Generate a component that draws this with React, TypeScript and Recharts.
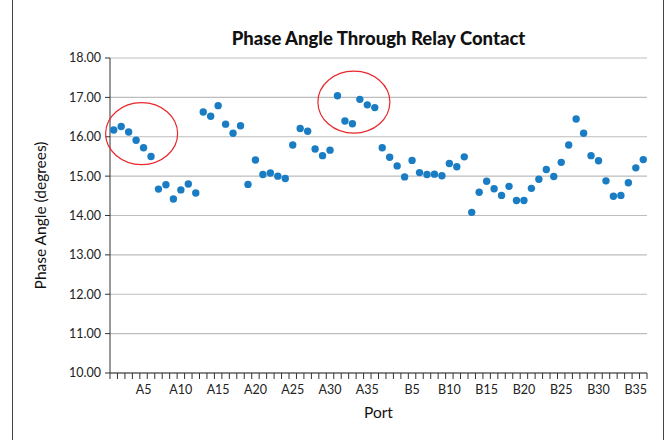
import React from 'react';
import { ScatterChart, Scatter, XAxis, YAxis, CartesianGrid, ReferenceDot } from 'recharts';

const portsA = Array.from({ length: 36 }, (_, i) => `A${i + 1}`);
const portsB = Array.from({ length: 36 }, (_, i) => `B${i + 1}`);
const ports = [...portsA, ...portsB];

const valuesA = [
  16.17, 16.26, 16.12, 15.91, 15.72, 15.50, 14.67, 14.78, 14.42, 14.65, 14.80, 14.57,
  16.63, 16.52, 16.79, 16.32, 16.09, 16.28, 14.79, 15.41, 15.04, 15.08, 15.00, 14.94,
  15.79, 16.21, 16.14, 15.69, 15.52, 15.66, 17.04, 16.40, 16.33, 16.95, 16.81, 16.74,
];
const valuesB = [
  15.72, 15.48, 15.26, 14.98, 15.40, 15.09, 15.04, 15.05, 15.01, 15.32, 15.24, 15.49,
  14.08, 14.59, 14.87, 14.68, 14.51, 14.74, 14.38, 14.38, 14.69, 14.92, 15.17, 14.99,
  15.35, 15.79, 16.45, 16.09, 15.52, 15.39, 14.88, 14.49, 14.51, 14.83, 15.21, 15.42,
];
const values = [...valuesA, ...valuesB];

const yTicks = [10, 11, 12, 13, 14, 15, 16, 17, 18];
const labeledPorts = ports.filter((p) => Number(p.slice(1)) % 5 === 0);

// highlighted clusters (center port position, center value)
const highlights = [
  { x: 4.24, y: 16.08 },
  { x: 32.7, y: 16.88 },
];

const data = ports.map((p, i) => ({ x: i + 0.5, y: values[i], port: p }));
const boundaryTicks = Array.from({ length: ports.length + 1 }, (_, i) => i);
const labelTicks = labeledPorts.map((p) => ports.indexOf(p) + 0.5);

const FONT = 'Lato, "Open Sans", sans-serif';

const Ellipse = (props: any) => (
  <ellipse cx={props.cx} cy={props.cy} rx={36} ry={31} fill="none" stroke="#e8262b" strokeWidth={1.2} />
);

export default function App() {
  return (
    <div style={{ position: 'absolute', left: 0, top: 0, width: 667, height: 440, background: '#fff', fontFamily: FONT, overflow: 'hidden' }}>
      <div
        style={{
          position: 'absolute',
          left: 110,
          width: 537,
          top: 27,
          textAlign: 'center',
          fontWeight: 900,
          fontSize: 18.5,
          color: '#111',
          fontFamily: FONT,
        }}
      >
        Phase Angle Through Relay Contact
      </div>
      <ScatterChart width={667} height={440} margin={{ top: 58, right: 20, left: 0, bottom: 12 }} style={{ fontFamily: FONT }}>
        <CartesianGrid xAxisId="a_main" horizontal vertical={false} stroke="#bdbdbd" strokeWidth={1.2} />
        <XAxis
          xAxisId="a_main"
          type="number"
          dataKey="x"
          domain={[0, ports.length]}
          ticks={boundaryTicks}
          interval={0}
          tickFormatter={() => ''}
          tickSize={6}
          tickMargin={0}
          height={7}
          axisLine={{ stroke: '#333' }}
          tickLine={{ stroke: '#333' }}
        />
        <XAxis
          xAxisId="b_labels"
          type="number"
          dataKey="x"
          domain={[0, ports.length]}
          ticks={labelTicks}
          interval={0}
          tickFormatter={(v: number) => ports[Math.floor(v)]}
          tickSize={0}
          tickMargin={5}
          height={48}
          axisLine={false}
          tickLine={false}
          tick={{ fill: '#222', fontSize: 12.5, fontFamily: FONT }}
          label={{ value: 'Port', position: 'insideBottom', offset: 10, style: { fill: '#111', fontSize: 15.5, fontFamily: FONT } }}
        />
        <YAxis
          type="number"
          dataKey="y"
          domain={[10, 18]}
          ticks={yTicks}
          interval={0}
          width={110}
          tickSize={5}
          tickMargin={4}
          tickFormatter={(v: number) => v.toFixed(2)}
          axisLine={{ stroke: '#333' }}
          tickLine={{ stroke: '#333' }}
          tick={{ fill: '#222', fontSize: 12.5, fontFamily: FONT }}
          label={{
            value: 'Phase Angle (degrees)',
            angle: -90,
            position: 'insideLeft',
            offset: 40,
            style: { textAnchor: 'middle', fill: '#111', fontSize: 15.5, fontFamily: FONT },
          }}
        />
        <Scatter xAxisId="b_labels" data={data} isAnimationActive={false} shape={() => <g />} />
        <Scatter xAxisId="a_main" data={data} fill="#1a7dc4" isAnimationActive={false} shape={(p: any) => <circle cx={p.cx} cy={p.cy} r={3.7} fill="#1a7dc4" />} />
        {highlights.map((h, i) => (
          <ReferenceDot key={i} xAxisId="a_main" x={h.x} y={h.y} r={30} shape={Ellipse} />
        ))}
      </ScatterChart>
      <div style={{ position: 'absolute', left: 12, top: 0, width: 1, height: 440, background: '#444', zIndex: 2 }} />
      <div style={{ position: 'absolute', left: 663, top: 0, width: 1, height: 440, background: '#444', zIndex: 2 }} />
    </div>
  );
}
